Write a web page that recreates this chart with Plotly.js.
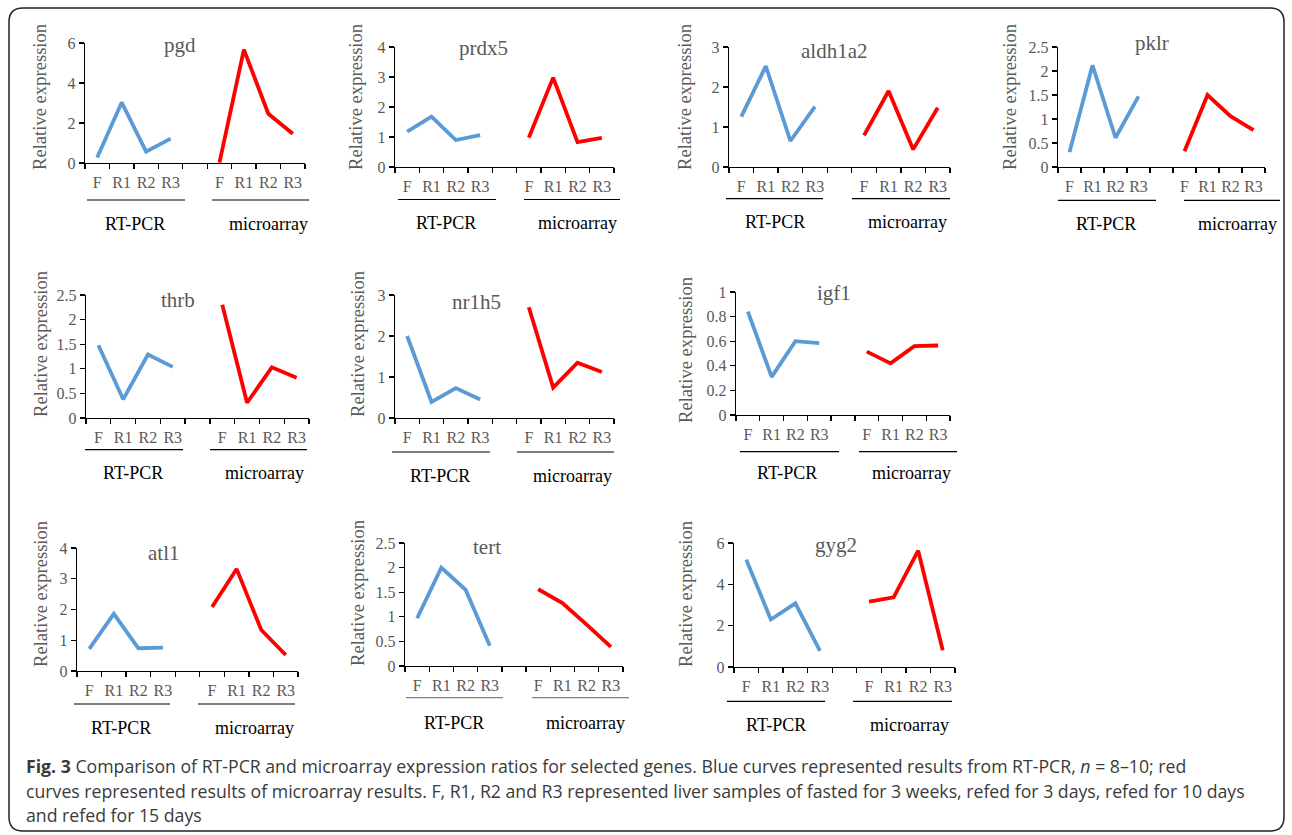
<!DOCTYPE html>
<html>
<head>
<meta charset="utf-8">
<script src="https://cdn.plot.ly/plotly-3.0.1.min.js"></script>
<style>html,body{margin:0;padding:0;background:#fff;}#chart{width:1292px;height:835px;}</style>
</head>
<body>
<div id="chart"></div>
<script>
// ---------- DATA ----------
const genes = ["pgd","prdx5","aldh1a2","pklr","thrb","nr1h5","igf1","atl1","tert","gyg2"];
const stages = ["F","R1","R2","R3"];
const groupLabels = ["RT-PCR","microarray"];
const yAxisTitle = "Relative expression";
const yMax  = [6, 4, 3, 2.5, 2.5, 3, 1, 4, 2.5, 6];
const yStep = [2, 1, 1, 0.5, 0.5, 1, 0.2, 1, 0.5, 2];
// RT-PCR (blue) values F,R1,R2,R3
const rtpcr_pgd     = [0.27, 3.03, 0.57, 1.22];
const rtpcr_prdx5   = [1.18, 1.68, 0.90, 1.06];
const rtpcr_aldh1a2 = [1.26, 2.52, 0.65, 1.51];
const rtpcr_pklr    = [0.31, 2.12, 0.61, 1.47];
const rtpcr_thrb    = [1.48, 0.38, 1.29, 1.04];
const rtpcr_nr1h5   = [2.00, 0.39, 0.73, 0.45];
const rtpcr_igf1    = [0.84, 0.31, 0.60, 0.585];
const rtpcr_atl1    = [0.72, 1.86, 0.74, 0.76];
const rtpcr_tert    = [0.97, 2.00, 1.55, 0.41];
const rtpcr_gyg2    = [5.19, 2.30, 3.08, 0.78];
// microarray (red) values F,R1,R2,R3
const micro_pgd     = [0.02, 5.67, 2.46, 1.46];
const micro_prdx5   = [0.98, 2.98, 0.83, 0.97];
const micro_aldh1a2 = [0.79, 1.90, 0.44, 1.48];
const micro_pklr    = [0.33, 1.50, 1.06, 0.77];
const micro_thrb    = [2.30, 0.31, 1.03, 0.82];
const micro_nr1h5   = [2.70, 0.74, 1.35, 1.12];
const micro_igf1    = [0.515, 0.42, 0.56, 0.565];
const micro_atl1    = [2.08, 3.32, 1.34, 0.52];
const micro_tert    = [1.56, 1.28, 0.84, 0.39];
const micro_gyg2    = [3.16, 3.37, 5.63, 0.81];
const rtpcrSeries = [rtpcr_pgd,rtpcr_prdx5,rtpcr_aldh1a2,rtpcr_pklr,rtpcr_thrb,rtpcr_nr1h5,rtpcr_igf1,rtpcr_atl1,rtpcr_tert,rtpcr_gyg2];
const microSeries = [micro_pgd,micro_prdx5,micro_aldh1a2,micro_pklr,micro_thrb,micro_nr1h5,micro_igf1,micro_atl1,micro_tert,micro_gyg2];
const captionLines = [
  "<b>Fig. 3</b> Comparison of RT-PCR and microarray expression ratios for selected genes. Blue curves represented results from RT-PCR, <i>n</i> = 8–10; red",
  "curves represented results of microarray results. F, R1, R2 and R3 represented liver samples of fasted for 3 weeks, refed for 3 days, refed for 10 days",
  "and refed for 15 days"
];

// ---------- LAYOUT GEOMETRY (pixels) ----------
const W = 1292, H = 835;
// [axisLeft, axisRight, yTop, yBottom, titleX, titleY, yTitleX, yTitleY, lineDy, labelDy, blueL0, blueL1, redL0, redL1, rtX, maX]
const geo = [
  [85, 305, 43, 163, 180, 45, 40, 97, 37, 61, 87, 185, 212, 309, 135, 268],
  [395, 614, 47, 167, 483, 48, 356, 97, 32.5, 56, 398, 496, 524, 620, 446, 577],
  [729, 950, 47, 167, 834, 51, 685, 97, 31.6, 55, 726, 823, 852, 950, 775, 907],
  [1058, 1265, 47, 167, 1152, 43, 1010, 97, 33.3, 57, 1058, 1156, 1184, 1280, 1106, 1237],
  [86, 309, 295, 418, 178, 300, 40, 344, 31.6, 55, 85, 183, 210, 307, 133, 264],
  [395, 614, 295, 418, 476, 302, 357, 344, 34, 58, 392, 490, 517, 614, 440, 572],
  [736, 950, 292, 415, 834, 293, 685, 350, 36.7, 57.7, 740, 839, 859, 957, 787, 911],
  [77, 298, 548, 671, 164, 553, 40, 594, 33, 57, 74, 170, 198, 295, 121, 254],
  [405, 623, 543, 666, 487, 547, 357, 593, 31.7, 56.7, 406, 503, 532, 629, 454, 585],
  [734, 955, 543, 667, 836, 545, 685, 594, 34.3, 58.3, 727, 825, 853, 952, 776, 909]
];
const px = v => v / W;
const py = v => 1 - v / H;

const serif = "Liberation Serif";
const gray = "#595959";
const catVals = [0,1,2,3,5,6,7,8];
const catText = stages.concat(stages);
const bounds = [-0.5,0.5,1.5,2.5,3.5,4.5,5.5,6.5,7.5,8.5];

const traces = [];
const layout = {
  width: W, height: H,
  margin: {l:0, r:0, t:0, b:0},
  paper_bgcolor: "#fff", plot_bgcolor: "rgba(0,0,0,0)",
  showlegend: false,
  annotations: [], shapes: []
};

genes.forEach((g, i) => {
  const n = i + 1;
  const xs = n === 1 ? "x" : "x" + n;
  const ys = n === 1 ? "y" : "y" + n;
  const xk = n === 1 ? "xaxis" : "xaxis" + n;
  const yk = n === 1 ? "yaxis" : "yaxis" + n;
  const G = geo[i];
  layout[xk] = {
    domain: [px(G[0]), px(G[1])], anchor: ys,
    range: [-0.5, 8.5], tickmode: "array", tickvals: catVals, ticktext: catText,
    ticks: "", showline: true, linecolor: "#000", linewidth: 1.3,
    showgrid: false, zeroline: false, fixedrange: true,
    tickfont: {family: serif, size: 16, color: gray},
    ticklabelstandoff: 4,
    minor: {tickmode: "array", tickvals: bounds, ticks: "outside", ticklen: 5, tickcolor: "#000", tickwidth: 1.3, showgrid: false}
  };
  layout[yk] = {
    domain: [py(G[3]), py(G[2])], anchor: xs,
    range: [0, yMax[i]], tickmode: "linear", tick0: 0, dtick: yStep[i],
    ticks: "outside", ticklen: 5, tickcolor: "#000", tickwidth: 1.3,
    showline: true, linecolor: "#000", linewidth: 1.3,
    showgrid: false, zeroline: false, fixedrange: true,
    tickfont: {family: serif, size: 16, color: gray}
  };
  traces.push({x: [0,1,2,3], y: rtpcrSeries[i], xaxis: xs, yaxis: ys, mode: "lines",
    line: {color: "#5B9BD5", width: 3.8}, hoverinfo: "skip"});
  traces.push({x: [5,6,7,8], y: microSeries[i], xaxis: xs, yaxis: ys, mode: "lines",
    line: {color: "#FF0000", width: 3.8}, hoverinfo: "skip"});

  // gene title
  layout.annotations.push({xref: "paper", yref: "paper", x: px(G[4]), y: py(G[5]), text: g,
    showarrow: false, xanchor: "center", yanchor: "middle", font: {family: serif, size: 21, color: gray}});
  // y-axis title
  layout.annotations.push({xref: "paper", yref: "paper", x: px(G[6]), y: py(G[7]), text: yAxisTitle,
    textangle: -90, showarrow: false, xanchor: "center", yanchor: "middle", font: {family: serif, size: 18.6, color: gray}});
  // group labels
  layout.annotations.push({xref: "paper", yref: "paper", x: px(G[14]), y: py(G[3] + G[9]), text: groupLabels[0],
    showarrow: false, xanchor: "center", yanchor: "middle", font: {family: serif, size: 18, color: "#000"}});
  layout.annotations.push({xref: "paper", yref: "paper", x: px(G[15]), y: py(G[3] + G[9]), text: groupLabels[1],
    showarrow: false, xanchor: "center", yanchor: "middle", font: {family: serif, size: 18, color: "#000"}});
  // group underlines
  const lc = g === "tert" ? "#7f7f7f" : "#000";
  const ly = py(G[3] + G[8]);
  layout.shapes.push({type: "line", xref: "paper", yref: "paper", x0: px(G[10]), x1: px(G[11]), y0: ly, y1: ly, line: {color: lc, width: 1.2}});
  layout.shapes.push({type: "line", xref: "paper", yref: "paper", x0: px(G[12]), x1: px(G[13]), y0: ly, y1: ly, line: {color: lc, width: 1.2}});
});

// caption
const capY = [766, 791, 815];
captionLines.forEach((t, k) => {
  layout.annotations.push({xref: "paper", yref: "paper", x: px(24), y: py(capY[k]), text: t,
    showarrow: false, xanchor: "left", yanchor: "middle", align: "left",
    font: {family: "Open Sans", size: 17.7, color: "#3a3a3a"}});
});

// outer rounded border
const bx0 = 9, bx1 = 1284, by0 = 8, by1 = 831, r = 14;
const P = (x, y) => px(x) + "," + py(y);
layout.shapes.push({type: "path", xref: "paper", yref: "paper",
  path: "M" + P(bx0 + r, by0) + " L" + P(bx1 - r, by0) + " Q" + P(bx1, by0) + " " + P(bx1, by0 + r) +
        " L" + P(bx1, by1 - r) + " Q" + P(bx1, by1) + " " + P(bx1 - r, by1) +
        " L" + P(bx0 + r, by1) + " Q" + P(bx0, by1) + " " + P(bx0, by1 - r) +
        " L" + P(bx0, by0 + r) + " Q" + P(bx0, by0) + " " + P(bx0 + r, by0) + " Z",
  line: {color: "#222", width: 1.5}, fillcolor: "rgba(0,0,0,0)"});

Plotly.newPlot("chart", traces, layout, {displayModeBar: false, staticPlot: true});
</script>
</body>
</html>
